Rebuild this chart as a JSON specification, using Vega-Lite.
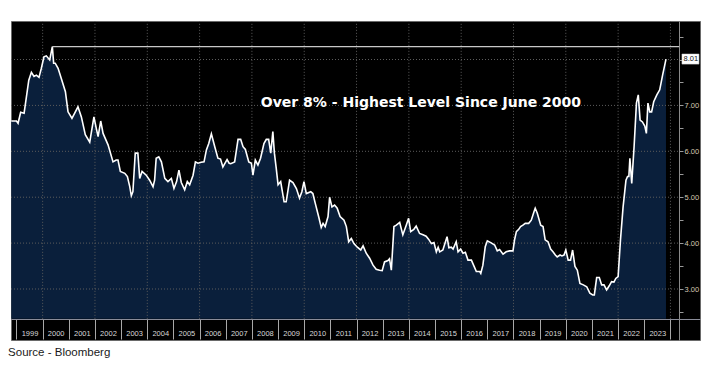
{
  "$schema": "https://vega.github.io/schema/vega-lite/v6.json",
  "width": 689,
  "height": 319,
  "autosize": {"type": "none"},
  "padding": {"left": 11, "top": 21, "right": 20, "bottom": 36},
  "background": "white",
  "config": {"view": {"fill": "black", "stroke": "#6a6a6a", "strokeWidth": 1}},
  "title": {"text": "Source - Bloomberg", "orient": "bottom", "anchor": "start", "offset": 7, "font": "Liberation Sans", "fontSize": 11.5, "fontWeight": "normal", "color": "#1a1a1a"},
  "datasets": {
    "rate": [
      {"t": 1998.80, "v": 6.66}, {"t": 1999.00, "v": 6.66}, {"t": 1999.06, "v": 6.61}, {"t": 1999.16, "v": 6.85},
      {"t": 1999.29, "v": 6.83}, {"t": 1999.37, "v": 7.15}, {"t": 1999.47, "v": 7.55}, {"t": 1999.57, "v": 7.72},
      {"t": 1999.67, "v": 7.63}, {"t": 1999.76, "v": 7.66}, {"t": 1999.86, "v": 7.61}, {"t": 1999.95, "v": 7.81},
      {"t": 2000.05, "v": 8.06}, {"t": 2000.14, "v": 8.08}, {"t": 2000.27, "v": 7.99}, {"t": 2000.37, "v": 8.28},
      {"t": 2000.42, "v": 7.92}, {"t": 2000.48, "v": 7.92}, {"t": 2000.59, "v": 7.81}, {"t": 2000.71, "v": 7.59},
      {"t": 2000.87, "v": 7.30}, {"t": 2000.97, "v": 6.86}, {"t": 2001.12, "v": 6.72}, {"t": 2001.35, "v": 6.97},
      {"t": 2001.48, "v": 6.75}, {"t": 2001.63, "v": 6.36}, {"t": 2001.80, "v": 6.20}, {"t": 2001.96, "v": 6.75},
      {"t": 2002.05, "v": 6.50}, {"t": 2002.12, "v": 6.32}, {"t": 2002.22, "v": 6.66}, {"t": 2002.31, "v": 6.39},
      {"t": 2002.50, "v": 6.14}, {"t": 2002.69, "v": 5.77}, {"t": 2002.81, "v": 5.81}, {"t": 2002.88, "v": 5.81},
      {"t": 2002.97, "v": 5.56}, {"t": 2003.14, "v": 5.52}, {"t": 2003.24, "v": 5.45}, {"t": 2003.33, "v": 5.23},
      {"t": 2003.39, "v": 5.03}, {"t": 2003.45, "v": 5.12}, {"t": 2003.54, "v": 5.96}, {"t": 2003.64, "v": 5.96},
      {"t": 2003.71, "v": 5.41}, {"t": 2003.80, "v": 5.56}, {"t": 2003.96, "v": 5.48}, {"t": 2004.09, "v": 5.37},
      {"t": 2004.22, "v": 5.23}, {"t": 2004.28, "v": 5.37}, {"t": 2004.34, "v": 5.85}, {"t": 2004.44, "v": 5.88},
      {"t": 2004.54, "v": 5.77}, {"t": 2004.67, "v": 5.41}, {"t": 2004.79, "v": 5.34}, {"t": 2004.92, "v": 5.41},
      {"t": 2005.02, "v": 5.19}, {"t": 2005.12, "v": 5.34}, {"t": 2005.21, "v": 5.59}, {"t": 2005.30, "v": 5.32},
      {"t": 2005.43, "v": 5.16}, {"t": 2005.53, "v": 5.34}, {"t": 2005.62, "v": 5.27}, {"t": 2005.75, "v": 5.48},
      {"t": 2005.84, "v": 5.77}, {"t": 2005.94, "v": 5.74}, {"t": 2006.06, "v": 5.76}, {"t": 2006.17, "v": 5.77},
      {"t": 2006.26, "v": 6.03}, {"t": 2006.35, "v": 6.17}, {"t": 2006.45, "v": 6.38}, {"t": 2006.58, "v": 6.10},
      {"t": 2006.70, "v": 5.85}, {"t": 2006.80, "v": 5.83}, {"t": 2006.89, "v": 5.66}, {"t": 2007.00, "v": 5.77},
      {"t": 2007.05, "v": 5.82}, {"t": 2007.13, "v": 5.74}, {"t": 2007.19, "v": 5.73}, {"t": 2007.34, "v": 5.77},
      {"t": 2007.47, "v": 6.26}, {"t": 2007.57, "v": 6.26}, {"t": 2007.66, "v": 6.10}, {"t": 2007.75, "v": 6.04},
      {"t": 2007.88, "v": 5.77}, {"t": 2007.98, "v": 5.74}, {"t": 2008.04, "v": 5.48}, {"t": 2008.13, "v": 5.81},
      {"t": 2008.23, "v": 5.70}, {"t": 2008.33, "v": 5.85}, {"t": 2008.46, "v": 6.17}, {"t": 2008.55, "v": 6.26},
      {"t": 2008.64, "v": 6.26}, {"t": 2008.72, "v": 5.96}, {"t": 2008.80, "v": 6.43}, {"t": 2008.86, "v": 5.96},
      {"t": 2008.93, "v": 5.63}, {"t": 2009.00, "v": 5.27}, {"t": 2009.10, "v": 5.34}, {"t": 2009.23, "v": 4.90},
      {"t": 2009.31, "v": 4.90}, {"t": 2009.44, "v": 5.37}, {"t": 2009.57, "v": 5.32}, {"t": 2009.70, "v": 5.19},
      {"t": 2009.82, "v": 4.98}, {"t": 2009.91, "v": 5.12}, {"t": 2009.99, "v": 5.34}, {"t": 2010.08, "v": 5.08},
      {"t": 2010.25, "v": 5.12}, {"t": 2010.33, "v": 5.08}, {"t": 2010.42, "v": 4.87}, {"t": 2010.55, "v": 4.58},
      {"t": 2010.65, "v": 4.34}, {"t": 2010.72, "v": 4.43}, {"t": 2010.80, "v": 4.36}, {"t": 2010.91, "v": 4.58},
      {"t": 2010.97, "v": 5.00}, {"t": 2011.06, "v": 4.79}, {"t": 2011.16, "v": 4.83}, {"t": 2011.26, "v": 4.76},
      {"t": 2011.37, "v": 4.58}, {"t": 2011.52, "v": 4.50}, {"t": 2011.61, "v": 4.36}, {"t": 2011.70, "v": 4.03},
      {"t": 2011.80, "v": 4.10}, {"t": 2011.90, "v": 3.99}, {"t": 2012.03, "v": 3.91}, {"t": 2012.16, "v": 3.85},
      {"t": 2012.25, "v": 3.94}, {"t": 2012.37, "v": 3.78}, {"t": 2012.50, "v": 3.67}, {"t": 2012.63, "v": 3.52},
      {"t": 2012.75, "v": 3.43}, {"t": 2012.88, "v": 3.41}, {"t": 2012.98, "v": 3.40}, {"t": 2013.07, "v": 3.59},
      {"t": 2013.20, "v": 3.62}, {"t": 2013.26, "v": 3.66}, {"t": 2013.33, "v": 3.41}, {"t": 2013.43, "v": 4.36},
      {"t": 2013.52, "v": 4.39}, {"t": 2013.65, "v": 4.45}, {"t": 2013.77, "v": 4.18}, {"t": 2013.90, "v": 4.39},
      {"t": 2013.99, "v": 4.54}, {"t": 2014.07, "v": 4.25}, {"t": 2014.19, "v": 4.30}, {"t": 2014.28, "v": 4.37},
      {"t": 2014.41, "v": 4.21}, {"t": 2014.54, "v": 4.18}, {"t": 2014.66, "v": 4.15}, {"t": 2014.76, "v": 4.08},
      {"t": 2014.86, "v": 3.99}, {"t": 2014.96, "v": 4.01}, {"t": 2015.05, "v": 3.81}, {"t": 2015.12, "v": 3.91},
      {"t": 2015.18, "v": 3.81}, {"t": 2015.30, "v": 3.85}, {"t": 2015.46, "v": 4.14}, {"t": 2015.53, "v": 3.90},
      {"t": 2015.62, "v": 3.91}, {"t": 2015.69, "v": 3.87}, {"t": 2015.81, "v": 4.03}, {"t": 2015.88, "v": 3.81},
      {"t": 2015.98, "v": 3.87}, {"t": 2016.07, "v": 3.78}, {"t": 2016.16, "v": 3.80}, {"t": 2016.26, "v": 3.63},
      {"t": 2016.39, "v": 3.63}, {"t": 2016.49, "v": 3.50}, {"t": 2016.58, "v": 3.38}, {"t": 2016.71, "v": 3.38},
      {"t": 2016.75, "v": 3.34}, {"t": 2016.83, "v": 3.52}, {"t": 2016.92, "v": 3.92}, {"t": 2017.00, "v": 4.05},
      {"t": 2017.13, "v": 4.01}, {"t": 2017.28, "v": 3.96}, {"t": 2017.38, "v": 3.83}, {"t": 2017.47, "v": 3.86},
      {"t": 2017.60, "v": 3.76}, {"t": 2017.72, "v": 3.81}, {"t": 2017.85, "v": 3.83}, {"t": 2017.98, "v": 3.83},
      {"t": 2018.04, "v": 4.07}, {"t": 2018.11, "v": 4.25}, {"t": 2018.20, "v": 4.30}, {"t": 2018.27, "v": 4.36},
      {"t": 2018.36, "v": 4.39}, {"t": 2018.45, "v": 4.43}, {"t": 2018.58, "v": 4.43}, {"t": 2018.68, "v": 4.50},
      {"t": 2018.78, "v": 4.68}, {"t": 2018.83, "v": 4.76}, {"t": 2018.91, "v": 4.65}, {"t": 2019.04, "v": 4.39},
      {"t": 2019.13, "v": 4.36}, {"t": 2019.21, "v": 4.07}, {"t": 2019.32, "v": 4.03}, {"t": 2019.42, "v": 3.87},
      {"t": 2019.51, "v": 3.81}, {"t": 2019.60, "v": 3.74}, {"t": 2019.67, "v": 3.70}, {"t": 2019.78, "v": 3.74},
      {"t": 2019.85, "v": 3.72}, {"t": 2019.93, "v": 3.74}, {"t": 2020.00, "v": 3.85}, {"t": 2020.09, "v": 3.63},
      {"t": 2020.18, "v": 3.63}, {"t": 2020.26, "v": 3.85}, {"t": 2020.35, "v": 3.49}, {"t": 2020.44, "v": 3.41},
      {"t": 2020.54, "v": 3.12}, {"t": 2020.67, "v": 3.09}, {"t": 2020.80, "v": 3.05}, {"t": 2020.92, "v": 2.91},
      {"t": 2021.03, "v": 2.87}, {"t": 2021.09, "v": 2.87}, {"t": 2021.18, "v": 3.25}, {"t": 2021.28, "v": 3.25},
      {"t": 2021.37, "v": 3.09}, {"t": 2021.46, "v": 3.09}, {"t": 2021.56, "v": 2.98}, {"t": 2021.66, "v": 3.07},
      {"t": 2021.75, "v": 3.16}, {"t": 2021.84, "v": 3.15}, {"t": 2021.91, "v": 3.23}, {"t": 2022.00, "v": 3.27},
      {"t": 2022.09, "v": 4.07}, {"t": 2022.19, "v": 4.79}, {"t": 2022.30, "v": 5.37}, {"t": 2022.36, "v": 5.45},
      {"t": 2022.41, "v": 5.45}, {"t": 2022.45, "v": 5.85}, {"t": 2022.52, "v": 5.30}, {"t": 2022.61, "v": 6.10},
      {"t": 2022.70, "v": 7.05}, {"t": 2022.77, "v": 7.23}, {"t": 2022.84, "v": 6.68}, {"t": 2022.93, "v": 6.64},
      {"t": 2023.02, "v": 6.55}, {"t": 2023.08, "v": 6.39}, {"t": 2023.14, "v": 7.05}, {"t": 2023.21, "v": 6.86},
      {"t": 2023.28, "v": 6.86}, {"t": 2023.36, "v": 7.08}, {"t": 2023.48, "v": 7.23}, {"t": 2023.59, "v": 7.34},
      {"t": 2023.70, "v": 7.66}, {"t": 2023.83, "v": 8.01}
    ]
  },
  "layer": [
    {
      "data": {"name": "rate"},
      "mark": {"type": "area", "color": "#0a1f3b", "opacity": 1},
      "encoding": {
        "x": {"field": "t", "type": "quantitative", "title": null,
          "scale": {"domain": [1998.79, 2025.13], "nice": false, "zero": false},
          "axis": {"orient": "bottom", "offset": -21, "values": [1999, 2000, 2001, 2002, 2003, 2004, 2005, 2006, 2007, 2008, 2009, 2010, 2011, 2012, 2013, 2014, 2015, 2016, 2017, 2018, 2019, 2020, 2021, 2022, 2023, 2024], "format": "d", "labelExpr": "datum.value < 2024 ? datum.label : ''", "grid": false, "domain": true, "domainColor": "#8a8c99", "domainWidth": 1, "ticks": true, "tickSize": 20, "tickColor": "#a8a8a8", "tickWidth": 1, "labelOffset": 13, "labelPadding": -10, "labelFont": "Liberation Sans", "labelFontSize": 7.5, "labelColor": "#d8d8d8", "labelOverlap": false, "labelFlush": false}},
        "y": {"field": "v", "type": "quantitative", "title": null,
          "scale": {"domain": [1.889, 8.839], "nice": false, "zero": false},
          "axis": {"orient": "right", "offset": -21, "values": [2.5, 3, 3.5, 4, 4.5, 5, 5.5, 6, 6.5, 7, 7.5, 8, 8.5], "labelExpr": "datum.value % 1 == 0 && datum.value < 8 ? format(datum.value, '.2f') : ''", "grid": false, "domain": true, "domainColor": "#8a8a8a", "tickSize": 4, "tickColor": "#9a9a9a", "labelPadding": 1, "labelFont": "Liberation Sans", "labelFontSize": 7.5, "labelColor": "#d6c8b0", "labelOverlap": false, "labelFlush": false}},
        "y2": {"datum": 2.35}
      }
    },
    {
      "data": {"values": [{"v": 3}, {"v": 4}, {"v": 5}, {"v": 6}, {"v": 7}, {"v": 8}]},
      "mark": {"type": "rule", "color": "#5c5c5c", "strokeDash": [1, 2], "strokeWidth": 1},
      "encoding": {
        "x": {"datum": 1998.79, "title": null,
          "axis": {"orient": "bottom", "offset": -21, "values": [1999, 2000, 2001, 2002, 2003, 2004, 2005, 2006, 2007, 2008, 2009, 2010, 2011, 2012, 2013, 2014, 2015, 2016, 2017, 2018, 2019, 2020, 2021, 2022, 2023, 2024], "format": "d", "labelExpr": "datum.value < 2024 ? datum.label : ''", "grid": false, "domain": true, "domainColor": "#8a8c99", "domainWidth": 1, "ticks": true, "tickSize": 20, "tickColor": "#a8a8a8", "tickWidth": 1, "labelOffset": 13, "labelPadding": -10, "labelFont": "Liberation Sans", "labelFontSize": 7.5, "labelColor": "#d8d8d8", "labelOverlap": false, "labelFlush": false}},
        "x2": {"datum": 2024.33},
        "y": {"field": "v", "type": "quantitative", "title": null,
          "axis": {"orient": "right", "offset": -21, "values": [2.5, 3, 3.5, 4, 4.5, 5, 5.5, 6, 6.5, 7, 7.5, 8, 8.5], "labelExpr": "datum.value % 1 == 0 && datum.value < 8 ? format(datum.value, '.2f') : ''", "grid": false, "domain": true, "domainColor": "#8a8a8a", "tickSize": 4, "tickColor": "#9a9a9a", "labelPadding": 1, "labelFont": "Liberation Sans", "labelFontSize": 7.5, "labelColor": "#d6c8b0", "labelOverlap": false, "labelFlush": false}}
      }
    },
    {
      "data": {"values": [{"t": 2000}, {"t": 2002}, {"t": 2004}, {"t": 2006}, {"t": 2008}, {"t": 2010}, {"t": 2012}, {"t": 2014}, {"t": 2016}, {"t": 2018}, {"t": 2020}, {"t": 2022}, {"t": 2024}]},
      "mark": {"type": "rule", "color": "#5c5c5c", "strokeDash": [1, 2], "strokeWidth": 1},
      "encoding": {
        "x": {"field": "t", "type": "quantitative", "title": null,
          "axis": {"orient": "bottom", "offset": -21, "values": [1999, 2000, 2001, 2002, 2003, 2004, 2005, 2006, 2007, 2008, 2009, 2010, 2011, 2012, 2013, 2014, 2015, 2016, 2017, 2018, 2019, 2020, 2021, 2022, 2023, 2024], "format": "d", "labelExpr": "datum.value < 2024 ? datum.label : ''", "grid": false, "domain": true, "domainColor": "#8a8c99", "domainWidth": 1, "ticks": true, "tickSize": 20, "tickColor": "#a8a8a8", "tickWidth": 1, "labelOffset": 13, "labelPadding": -10, "labelFont": "Liberation Sans", "labelFontSize": 7.5, "labelColor": "#d8d8d8", "labelOverlap": false, "labelFlush": false}},
        "y": {"datum": 2.35, "title": null,
          "axis": {"orient": "right", "offset": -21, "values": [2.5, 3, 3.5, 4, 4.5, 5, 5.5, 6, 6.5, 7, 7.5, 8, 8.5], "labelExpr": "datum.value % 1 == 0 && datum.value < 8 ? format(datum.value, '.2f') : ''", "grid": false, "domain": true, "domainColor": "#8a8a8a", "tickSize": 4, "tickColor": "#9a9a9a", "labelPadding": 1, "labelFont": "Liberation Sans", "labelFontSize": 7.5, "labelColor": "#d6c8b0", "labelOverlap": false, "labelFlush": false}},
        "y2": {"datum": 8.839}
      }
    },
    {
      "data": {"name": "rate"},
      "mark": {"type": "line", "color": "#ffffff", "strokeWidth": 1.6},
      "encoding": {
        "x": {"field": "t", "type": "quantitative", "title": null,
          "axis": {"orient": "bottom", "offset": -21, "values": [1999, 2000, 2001, 2002, 2003, 2004, 2005, 2006, 2007, 2008, 2009, 2010, 2011, 2012, 2013, 2014, 2015, 2016, 2017, 2018, 2019, 2020, 2021, 2022, 2023, 2024], "format": "d", "labelExpr": "datum.value < 2024 ? datum.label : ''", "grid": false, "domain": true, "domainColor": "#8a8c99", "domainWidth": 1, "ticks": true, "tickSize": 20, "tickColor": "#a8a8a8", "tickWidth": 1, "labelOffset": 13, "labelPadding": -10, "labelFont": "Liberation Sans", "labelFontSize": 7.5, "labelColor": "#d8d8d8", "labelOverlap": false, "labelFlush": false}},
        "y": {"field": "v", "type": "quantitative", "title": null,
          "axis": {"orient": "right", "offset": -21, "values": [2.5, 3, 3.5, 4, 4.5, 5, 5.5, 6, 6.5, 7, 7.5, 8, 8.5], "labelExpr": "datum.value % 1 == 0 && datum.value < 8 ? format(datum.value, '.2f') : ''", "grid": false, "domain": true, "domainColor": "#8a8a8a", "tickSize": 4, "tickColor": "#9a9a9a", "labelPadding": 1, "labelFont": "Liberation Sans", "labelFontSize": 7.5, "labelColor": "#d6c8b0", "labelOverlap": false, "labelFlush": false}}
      }
    },
    {
      "data": {"values": [{"t": 2000.37, "t2": 2024.33, "v": 8.28}]},
      "mark": {"type": "rule", "color": "#c8c8c8", "strokeWidth": 1.2},
      "encoding": {
        "x": {"field": "t", "type": "quantitative", "title": null,
          "axis": {"orient": "bottom", "offset": -21, "values": [1999, 2000, 2001, 2002, 2003, 2004, 2005, 2006, 2007, 2008, 2009, 2010, 2011, 2012, 2013, 2014, 2015, 2016, 2017, 2018, 2019, 2020, 2021, 2022, 2023, 2024], "format": "d", "labelExpr": "datum.value < 2024 ? datum.label : ''", "grid": false, "domain": true, "domainColor": "#8a8c99", "domainWidth": 1, "ticks": true, "tickSize": 20, "tickColor": "#a8a8a8", "tickWidth": 1, "labelOffset": 13, "labelPadding": -10, "labelFont": "Liberation Sans", "labelFontSize": 7.5, "labelColor": "#d8d8d8", "labelOverlap": false, "labelFlush": false}},
        "x2": {"field": "t2"},
        "y": {"field": "v", "type": "quantitative", "title": null,
          "axis": {"orient": "right", "offset": -21, "values": [2.5, 3, 3.5, 4, 4.5, 5, 5.5, 6, 6.5, 7, 7.5, 8, 8.5], "labelExpr": "datum.value % 1 == 0 && datum.value < 8 ? format(datum.value, '.2f') : ''", "grid": false, "domain": true, "domainColor": "#8a8a8a", "tickSize": 4, "tickColor": "#9a9a9a", "labelPadding": 1, "labelFont": "Liberation Sans", "labelFontSize": 7.5, "labelColor": "#d6c8b0", "labelOverlap": false, "labelFlush": false}}
      }
    },
    {
      "data": {"values": [{"label": "Over 8% - Highest Level Since June 2000"}]},
      "mark": {"type": "text", "color": "white", "font": "DejaVu Sans", "fontWeight": "bold", "fontSize": 14, "align": "center", "baseline": "middle"},
      "encoding": {
        "x": {"datum": 2014.46, "title": null,
          "axis": {"orient": "bottom", "offset": -21, "values": [1999, 2000, 2001, 2002, 2003, 2004, 2005, 2006, 2007, 2008, 2009, 2010, 2011, 2012, 2013, 2014, 2015, 2016, 2017, 2018, 2019, 2020, 2021, 2022, 2023, 2024], "format": "d", "labelExpr": "datum.value < 2024 ? datum.label : ''", "grid": false, "domain": true, "domainColor": "#8a8c99", "domainWidth": 1, "ticks": true, "tickSize": 20, "tickColor": "#a8a8a8", "tickWidth": 1, "labelOffset": 13, "labelPadding": -10, "labelFont": "Liberation Sans", "labelFontSize": 7.5, "labelColor": "#d8d8d8", "labelOverlap": false, "labelFlush": false}},
        "y": {"datum": 7.05, "title": null,
          "axis": {"orient": "right", "offset": -21, "values": [2.5, 3, 3.5, 4, 4.5, 5, 5.5, 6, 6.5, 7, 7.5, 8, 8.5], "labelExpr": "datum.value % 1 == 0 && datum.value < 8 ? format(datum.value, '.2f') : ''", "grid": false, "domain": true, "domainColor": "#8a8a8a", "tickSize": 4, "tickColor": "#9a9a9a", "labelPadding": 1, "labelFont": "Liberation Sans", "labelFontSize": 7.5, "labelColor": "#d6c8b0", "labelOverlap": false, "labelFlush": false}},
        "text": {"field": "label"}
      }
    },
    {
      "data": {"values": [{"label": "8.01"}]},
      "mark": {"type": "rect", "color": "white", "stroke": "#cccccc", "strokeWidth": 0.5},
      "encoding": {
        "x": {"datum": 2024.44, "title": null,
          "axis": {"orient": "bottom", "offset": -21, "values": [1999, 2000, 2001, 2002, 2003, 2004, 2005, 2006, 2007, 2008, 2009, 2010, 2011, 2012, 2013, 2014, 2015, 2016, 2017, 2018, 2019, 2020, 2021, 2022, 2023, 2024], "format": "d", "labelExpr": "datum.value < 2024 ? datum.label : ''", "grid": false, "domain": true, "domainColor": "#8a8c99", "domainWidth": 1, "ticks": true, "tickSize": 20, "tickColor": "#a8a8a8", "tickWidth": 1, "labelOffset": 13, "labelPadding": -10, "labelFont": "Liberation Sans", "labelFontSize": 7.5, "labelColor": "#d8d8d8", "labelOverlap": false, "labelFlush": false}},
        "x2": {"datum": 2025.09},
        "y": {"datum": 8.12, "title": null,
          "axis": {"orient": "right", "offset": -21, "values": [2.5, 3, 3.5, 4, 4.5, 5, 5.5, 6, 6.5, 7, 7.5, 8, 8.5], "labelExpr": "datum.value % 1 == 0 && datum.value < 8 ? format(datum.value, '.2f') : ''", "grid": false, "domain": true, "domainColor": "#8a8a8a", "tickSize": 4, "tickColor": "#9a9a9a", "labelPadding": 1, "labelFont": "Liberation Sans", "labelFontSize": 7.5, "labelColor": "#d6c8b0", "labelOverlap": false, "labelFlush": false}},
        "y2": {"datum": 7.9}
      }
    },
    {
      "data": {"values": [{"label": "8.01"}]},
      "mark": {"type": "text", "color": "#111111", "font": "Liberation Sans", "fontSize": 7.5, "align": "left", "baseline": "middle"},
      "encoding": {
        "x": {"datum": 2024.5, "title": null,
          "axis": {"orient": "bottom", "offset": -21, "values": [1999, 2000, 2001, 2002, 2003, 2004, 2005, 2006, 2007, 2008, 2009, 2010, 2011, 2012, 2013, 2014, 2015, 2016, 2017, 2018, 2019, 2020, 2021, 2022, 2023, 2024], "format": "d", "labelExpr": "datum.value < 2024 ? datum.label : ''", "grid": false, "domain": true, "domainColor": "#8a8c99", "domainWidth": 1, "ticks": true, "tickSize": 20, "tickColor": "#a8a8a8", "tickWidth": 1, "labelOffset": 13, "labelPadding": -10, "labelFont": "Liberation Sans", "labelFontSize": 7.5, "labelColor": "#d8d8d8", "labelOverlap": false, "labelFlush": false}},
        "y": {"datum": 8.01, "title": null,
          "axis": {"orient": "right", "offset": -21, "values": [2.5, 3, 3.5, 4, 4.5, 5, 5.5, 6, 6.5, 7, 7.5, 8, 8.5], "labelExpr": "datum.value % 1 == 0 && datum.value < 8 ? format(datum.value, '.2f') : ''", "grid": false, "domain": true, "domainColor": "#8a8a8a", "tickSize": 4, "tickColor": "#9a9a9a", "labelPadding": 1, "labelFont": "Liberation Sans", "labelFontSize": 7.5, "labelColor": "#d6c8b0", "labelOverlap": false, "labelFlush": false}},
        "text": {"field": "label"}
      }
    }
  ]
}
